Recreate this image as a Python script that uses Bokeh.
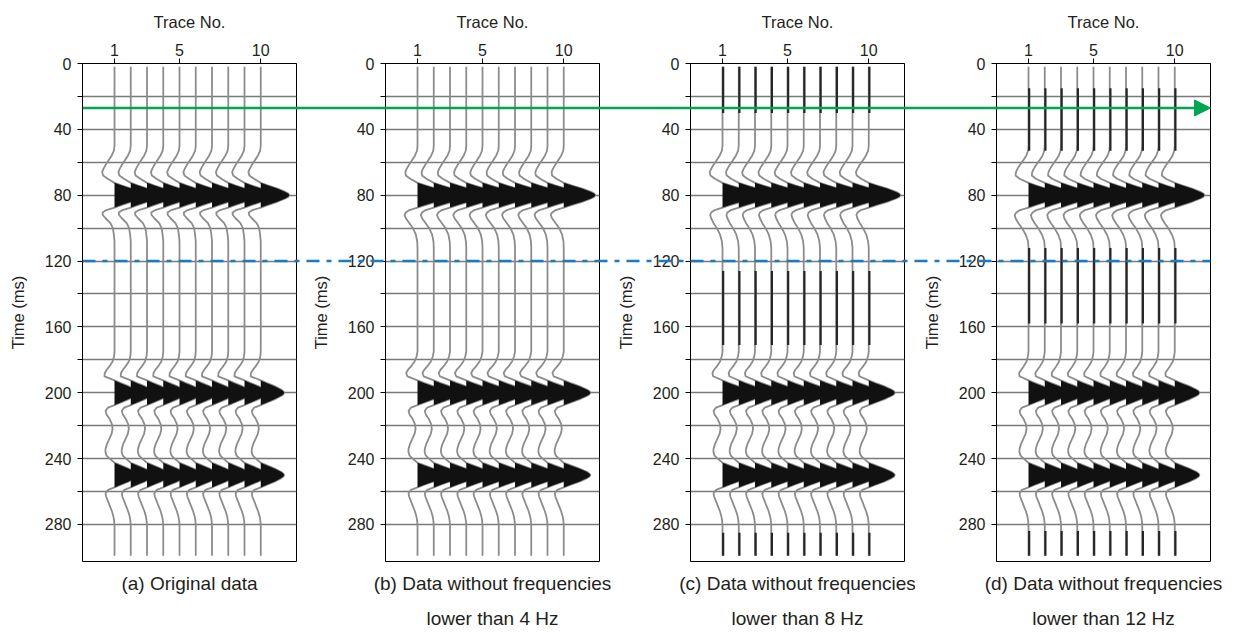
from bokeh.plotting import figure
from bokeh.models import Range1d, FixedTicker, Title, Span, Arrow, NormalHead
from bokeh.layouts import row, column
from bokeh.embed import file_html
from bokeh.resources import INLINE

FONT = "Liberation Sans"
TEXT_COLOR = "#231f20"

# ---- data ---------------------------------------------------------------
trace_no = list(range(1, 11))

# sample times (ms) shared by every trace
time_ms = [2, 15, 30, 45, 50, 53, 56, 59, 62, 64, 66, 68, 70, 72.5,
           74, 76, 78, 79, 80, 81, 82, 84, 86, 87.5,
           89, 90.5, 92, 94, 97, 100, 104, 108, 112, 116, 120, 126, 135, 145, 158, 165, 171,
           175, 178, 181, 184, 186, 188, 190, 192.5,
           194, 196, 198, 199, 200, 201, 202, 204, 206, 207.5,
           209, 211, 213, 216, 219, 222, 225, 228, 231, 234, 236, 238, 240, 242.5,
           244, 246, 248, 249, 250, 251, 252, 254, 256, 257.5,
           259, 261, 263, 266, 269, 272, 275, 278, 281, 285, 290, 299]

# trace amplitude (in trace spacings) for each panel
amp_a = [0, 0, 0, 0, 0, -0.04, -0.18, -0.38, -0.57, -0.68, -0.76, -0.70, -0.42, 0,
         0.42, 1.02, 1.51, 1.69, 1.76, 1.69, 1.51, 1.02, 0.42, 0,
         -0.50, -0.74, -0.72, -0.55, -0.25, -0.10, -0.04, 0, 0, 0, 0, 0, 0, 0, 0, 0, 0,
         0, -0.03, -0.12, -0.32, -0.48, -0.60, -0.62, 0,
         0.35, 0.84, 1.24, 1.38, 1.44, 1.38, 1.24, 0.84, 0.35, 0,
         -0.40, -0.55, -0.50, -0.30, -0.16, -0.12, -0.18, -0.32, -0.46, -0.55, -0.56, -0.50, -0.30, 0,
         0.35, 0.84, 1.24, 1.38, 1.44, 1.38, 1.24, 0.84, 0.35, 0,
         -0.40, -0.55, -0.52, -0.40, -0.28, -0.16, -0.07, -0.02, 0, 0, 0, 0]
amp_b = [0, 0, 0, 0, 0, -0.03, -0.16, -0.36, -0.55, -0.67, -0.75, -0.72, -0.45, 0,
         0.47, 1.13, 1.68, 1.87, 1.95, 1.87, 1.68, 1.13, 0.47, 0,
         -0.50, -0.72, -0.80, -0.72, -0.50, -0.28, -0.10, -0.02, 0, 0, 0, 0, 0, 0, 0, 0, 0,
         0, -0.06, -0.18, -0.40, -0.58, -0.70, -0.62, 0,
         0.39, 0.95, 1.41, 1.57, 1.64, 1.57, 1.41, 0.95, 0.39, 0,
         -0.40, -0.55, -0.50, -0.30, -0.16, -0.12, -0.18, -0.32, -0.46, -0.55, -0.56, -0.50, -0.30, 0,
         0.39, 0.95, 1.41, 1.57, 1.64, 1.57, 1.41, 0.95, 0.39, 0,
         -0.40, -0.55, -0.52, -0.40, -0.28, -0.16, -0.07, -0.02, 0, 0, 0, 0]
amp_c = [0, 0, 0, 0, 0, -0.04, -0.18, -0.38, -0.58, -0.70, -0.79, -0.74, -0.47, 0,
         0.47, 1.13, 1.68, 1.87, 1.95, 1.87, 1.68, 1.13, 0.47, 0,
         -0.48, -0.70, -0.76, -0.70, -0.55, -0.35, -0.15, -0.04, 0, 0, 0, 0, 0, 0, 0, 0, 0,
         0, -0.05, -0.15, -0.35, -0.52, -0.62, -0.58, 0,
         0.38, 0.93, 1.38, 1.54, 1.60, 1.54, 1.38, 0.93, 0.38, 0,
         -0.40, -0.55, -0.50, -0.30, -0.16, -0.12, -0.18, -0.32, -0.46, -0.55, -0.56, -0.50, -0.30, 0,
         0.38, 0.93, 1.38, 1.54, 1.60, 1.54, 1.38, 0.93, 0.38, 0,
         -0.40, -0.55, -0.52, -0.40, -0.28, -0.16, -0.07, -0.02, 0, 0, 0, 0]
amp_d = [0, 0, 0, 0, 0, -0.03, -0.14, -0.34, -0.55, -0.68, -0.77, -0.80, -0.55, 0,
         0.44, 1.06, 1.57, 1.76, 1.83, 1.76, 1.57, 1.06, 0.44, 0,
         -0.52, -0.75, -0.85, -0.80, -0.62, -0.40, -0.17, -0.03, 0, 0, 0, 0, 0, 0, 0, 0, 0,
         0, -0.04, -0.12, -0.30, -0.45, -0.58, -0.55, 0,
         0.36, 0.88, 1.31, 1.46, 1.52, 1.46, 1.31, 0.88, 0.36, 0,
         -0.40, -0.55, -0.50, -0.30, -0.16, -0.12, -0.18, -0.32, -0.46, -0.55, -0.56, -0.50, -0.30, 0,
         0.36, 0.88, 1.31, 1.46, 1.52, 1.46, 1.31, 0.88, 0.36, 0,
         -0.40, -0.55, -0.52, -0.40, -0.28, -0.16, -0.07, -0.02, 0, 0, 0, 0]

# intervals (ms) of low-level positive ringing left by the low-cut filter
ringing_c = [[2, 30], [126, 171], [285, 299]]
ringing_d = [[15, 53], [112, 158], [284, 299]]

captions = [["(a) Original data"],
            ["(b) Data without frequencies", "lower than 4 Hz"],
            ["(c) Data without frequencies", "lower than 8 Hz"],
            ["(d) Data without frequencies", "lower than 12 Hz"]]

x_ticks = [1, 5, 10]
y_major = [0, 40, 80, 120, 160, 200, 240, 280]
y_minor = [20, 60, 100, 140, 180, 220, 260]
grid_times = [20, 40, 60, 80, 100, 120, 140, 160, 180, 200, 220, 240, 260, 280]

marker_time = 27       # green arrow
reference_time = 120   # blue dash-dot line

# ---- layout constants ----------------------------------------------------
TOP, BOTTOM = 63, 74
HEIGHT = 635
time_range = Range1d(302.5, 0)

TRACE_GRAY = "#8c8c8c"
FILL = "#111111"


def make_panel(amp, caption, ringing, width, left, right):
    p = figure(width=width, height=HEIGHT, x_range=Range1d(-0.97, 12.2), y_range=time_range,
               x_axis_location="above", toolbar_location=None, output_backend="svg",
               min_border_left=left, min_border_right=right,
               min_border_top=TOP, min_border_bottom=BOTTOM,
               background_fill_color="white", border_fill_color="white")
    p.outline_line_color = "black"
    p.outline_line_width = 1
    p.xgrid.visible = False
    p.ygrid.ticker = FixedTicker(ticks=grid_times)
    p.ygrid.grid_line_color = "#7a7a7a"
    p.ygrid.grid_line_width = 1.6

    xa = p.xaxis[0]
    xa.ticker = FixedTicker(ticks=x_ticks, minor_ticks=[])
    xa.axis_label = "Trace No."
    ya = p.yaxis[0]
    ya.ticker = FixedTicker(ticks=y_major, minor_ticks=y_minor)
    ya.axis_label = "Time (ms)"
    for ax in (xa, ya):
        ax.axis_line_color = "black"
        ax.major_tick_line_color = "black"
        ax.minor_tick_line_color = "black"
        ax.major_tick_in = 0
        ax.major_tick_out = 5
        ax.minor_tick_in = 0
        ax.minor_tick_out = 5
        ax.major_label_text_font = FONT
        ax.major_label_text_font_size = "16px"
        ax.major_label_text_color = TEXT_COLOR
        ax.axis_label_text_font = FONT
        ax.axis_label_text_font_size = "16.5px"
        ax.axis_label_text_font_style = "normal"
        ax.axis_label_text_color = TEXT_COLOR
    xa.major_label_standoff = 3
    xa.axis_label_standoff = 10
    ya.major_label_standoff = 6
    ya.axis_label_standoff = 15

    # wiggle lines and positive-lobe fill for every trace
    xs_line, ys_line, xs_fill, ys_fill = [], [], [], []
    for n in trace_no:
        xs_line.append([n + a for a in amp])
        ys_line.append(list(time_ms))
        pos = [n + max(a, 0) for a in amp]
        xs_fill.append(pos + [n] * len(time_ms))
        ys_fill.append(list(time_ms) + list(reversed(time_ms)))
    p.multi_line(xs=xs_line, ys=ys_line, line_color=TRACE_GRAY, line_width=1.8)
    p.patches(xs=xs_fill, ys=ys_fill, fill_color=FILL, line_color=None)

    if ringing:
        x0, y0, y1 = [], [], []
        for n in trace_no:
            for a, b in ringing:
                x0.append(n + 0.04)
                y0.append(a)
                y1.append(b)
        p.segment(x0=x0, y0=y0, x1=x0, y1=y1, line_color="#262626", line_width=2.2)

    # caption lines stacked below the frame, first line nearest to it
    for i, line in enumerate(caption):
        p.add_layout(Title(text=line, align="center", text_font=FONT, text_font_size="19px",
                           text_font_style="normal", text_color=TEXT_COLOR,
                           standoff=18 if i == 0 else 6), "below")
    return p


panels = [
    make_panel(amp_a, captions[0], None, 305, 82, 9),
    make_panel(amp_b, captions[1], None, 307, 80, 13),
    make_panel(amp_c, captions[2], ringing_c, 303, 78, 11),
    make_panel(amp_d, captions[3], ringing_d, 319, 81, 24),
]

# transparent layer carrying the reference lines that run across all panels
overlay = figure(width=1234, height=HEIGHT, x_range=Range1d(0, 1), y_range=time_range,
                 x_axis_location=None, y_axis_location=None, toolbar_location=None,
                 output_backend="svg", min_border_left=82, min_border_right=24,
                 min_border_top=TOP, min_border_bottom=BOTTOM,
                 background_fill_alpha=0, border_fill_alpha=0, outline_line_color=None)
overlay.xgrid.visible = False
overlay.ygrid.visible = False
overlay.margin = (-HEIGHT, 0, 0, 0)

GREEN = "#00a651"
BLUE = "#1b7bc0"
overlay.add_layout(Span(location=reference_time, dimension="width", line_color=BLUE,
                        line_width=2.5, line_dash="13 7 5 7"))
overlay.add_layout(Arrow(x_start=0, y_start=marker_time, x_end=1, y_end=marker_time,
                         line_color=GREEN, line_width=2.5,
                         end=NormalHead(size=16, fill_color=GREEN, line_color=GREEN)))

layout = column(row(*panels), overlay)

open("out.html", "w").write(file_html(layout, INLINE))
